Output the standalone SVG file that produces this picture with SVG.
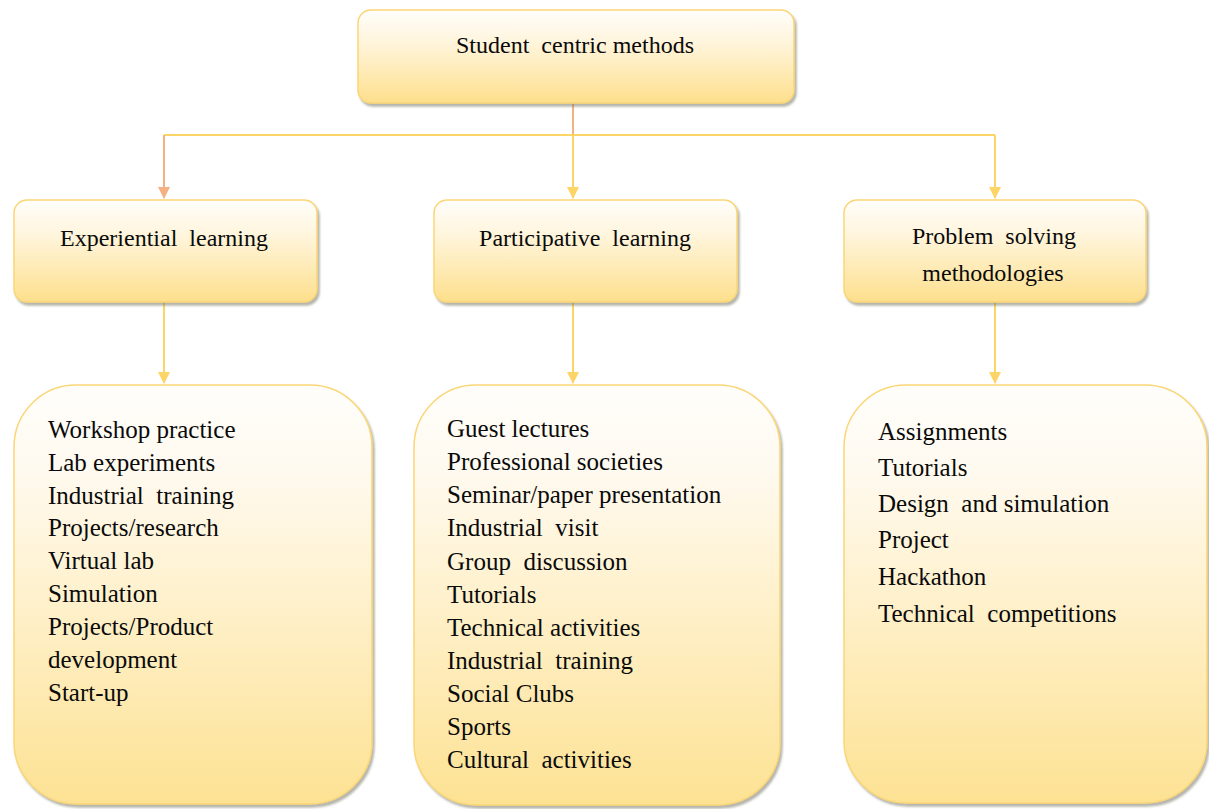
<svg xmlns="http://www.w3.org/2000/svg" width="1209" height="809" viewBox="0 0 1209 809">
  <style>
    .box { stroke: #fbd676; stroke-width: 1.5; filter: url(#shadow); }
    .head { fill: url(#gHead); }
    .list { fill: url(#gList); }
    text { white-space: pre; fill: #0a0a0a; }
    .t1 { font-size: 24px; text-anchor: middle; }
    .t2 { font-size: 25px; }
    .gold { stroke: #fdd466; stroke-width: 2; fill: none; }
    .peach { stroke: #f4b183; stroke-width: 2; fill: none; }
  </style>
  <defs>
    <linearGradient id="gHead" x1="0" y1="0" x2="0" y2="1">
      <stop offset="0" stop-color="#fffefb"/>
      <stop offset="0.35" stop-color="#fff5dc"/>
      <stop offset="1" stop-color="#fddf8c"/>
    </linearGradient>
    <linearGradient id="gList" x1="0" y1="0" x2="0" y2="1">
      <stop offset="0" stop-color="#fffefb"/>
      <stop offset="0.2" stop-color="#fffaf0"/>
      <stop offset="1" stop-color="#fde293"/>
    </linearGradient>
    <filter id="shadow" x="-5%" y="-5%" width="112%" height="115%">
      <feDropShadow dx="2" dy="3" stdDeviation="1.2" flood-color="#7a7a6a" flood-opacity="0.55"/>
    </filter>
    <marker id="arrGold" markerWidth="12" markerHeight="14" refX="11" refY="6" orient="auto" markerUnits="userSpaceOnUse">
      <path d="M0,0 L12,6 L0,12 Z" fill="#fdd466"/>
    </marker>
    <marker id="arrPeach" markerWidth="12" markerHeight="14" refX="11" refY="6" orient="auto" markerUnits="userSpaceOnUse">
      <path d="M0,0 L12,6 L0,12 Z" fill="#f4b183"/>
    </marker>
  </defs>

  <!-- connectors -->
  <g id="connectors">
    <path class="peach" d="M573,103 L573,135"/>
    <path class="gold" d="M164,135 L995,135"/>
    <path class="peach" d="M164,135 L164,198" marker-end="url(#arrPeach)"/>
    <path class="gold" d="M573,135 L573,198" marker-end="url(#arrGold)"/>
    <path class="gold" d="M995,135 L995,198" marker-end="url(#arrGold)"/>
    <path class="gold" d="M164,302 L164,383" marker-end="url(#arrGold)"/>
    <path class="gold" d="M573,302 L573,383" marker-end="url(#arrGold)"/>
    <path class="gold" d="M995,302 L995,383" marker-end="url(#arrGold)"/>
  </g>

  <g font-family="Liberation Serif">
  <!-- root -->
  <g id="student-centric">
    <rect class="box head" x="358" y="10" width="436" height="93" rx="13"/>
    <text class="t1" x="575" y="53">Student  centric methods</text>
  </g>

  <!-- second level -->
  <g id="experiential">
    <rect class="box head" x="14" y="200" width="303" height="102" rx="13"/>
    <text class="t1" x="164" y="246">Experiential  learning</text>
  </g>
  <g id="participative">
    <rect class="box head" x="434" y="200" width="303" height="102" rx="13"/>
    <text class="t1" x="585" y="246">Participative  learning</text>
  </g>
  <g id="problem-solving">
    <rect class="box head" x="844" y="200" width="302" height="102" rx="13"/>
    <text class="t1" x="994" y="244">Problem  solving</text>
    <text class="t1" x="993" y="281">methodologies</text>
  </g>

  <!-- third level lists -->
  <g id="experiential-list">
    <rect class="box list" x="14" y="385" width="358" height="419" rx="62"/>
    <text class="t2" x="48" y="438">Workshop practice</text>
    <text class="t2" x="48" y="471">Lab experiments</text>
    <text class="t2" x="48" y="504">Industrial  training</text>
    <text class="t2" x="48" y="536">Projects/research</text>
    <text class="t2" x="48" y="569">Virtual lab</text>
    <text class="t2" x="48" y="602">Simulation</text>
    <text class="t2" x="48" y="635">Projects/Product</text>
    <text class="t2" x="48" y="668">development</text>
    <text class="t2" x="48" y="701">Start-up</text>
  </g>
  <g id="participative-list">
    <rect class="box list" x="414" y="385" width="366" height="420" rx="62"/>
    <text class="t2" x="447" y="437">Guest lectures</text>
    <text class="t2" x="447" y="470">Professional societies</text>
    <text class="t2" x="447" y="503">Seminar/paper presentation</text>
    <text class="t2" x="447" y="536">Industrial  visit</text>
    <text class="t2" x="447" y="570">Group  discussion</text>
    <text class="t2" x="447" y="603">Tutorials</text>
    <text class="t2" x="447" y="636">Technical activities</text>
    <text class="t2" x="447" y="669">Industrial  training</text>
    <text class="t2" x="447" y="702">Social Clubs</text>
    <text class="t2" x="447" y="735">Sports</text>
    <text class="t2" x="447" y="768">Cultural  activities</text>
  </g>
  <g id="problem-solving-list">
    <rect class="box list" x="844" y="385" width="363" height="418" rx="62"/>
    <text class="t2" x="878" y="440">Assignments</text>
    <text class="t2" x="878" y="476">Tutorials</text>
    <text class="t2" x="878" y="512">Design  and simulation</text>
    <text class="t2" x="878" y="548">Project</text>
    <text class="t2" x="878" y="585">Hackathon</text>
    <text class="t2" x="878" y="622">Technical  competitions</text>
  </g>
  </g>
</svg>
